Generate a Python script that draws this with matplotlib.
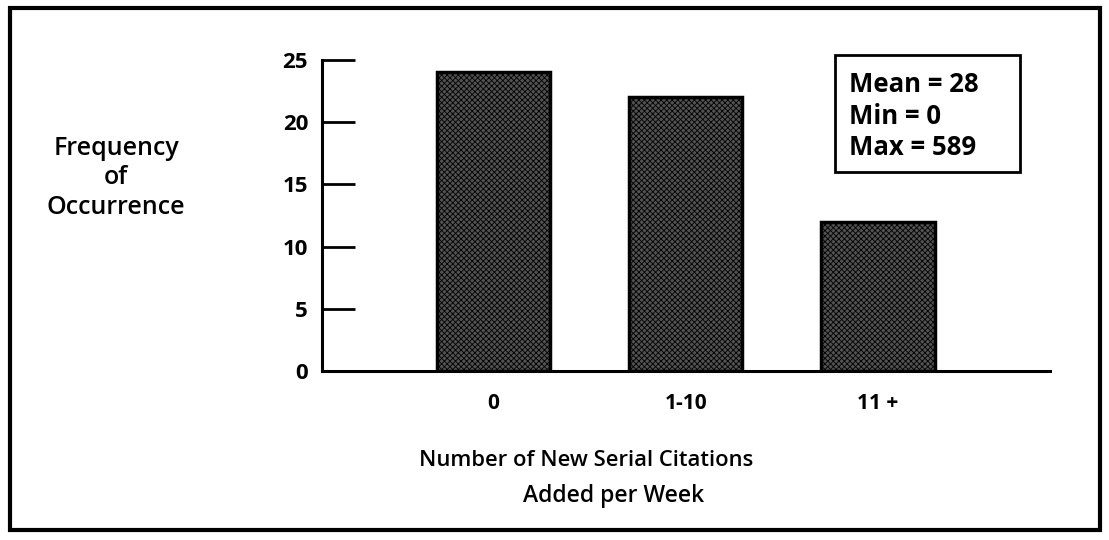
import matplotlib.pyplot as plt
from matplotlib.patches import Rectangle

# Data
categories = ["0", "1-10", "11 +"]
frequency = [24, 22, 12]
y_ticks = [0, 5, 10, 15, 20, 25]
stats_lines = ["Mean = 28", "Min = 0", "Max = 589"]

plt.rcParams['font.family'] = ['Open Sans', 'DejaVu Sans']
plt.rcParams['hatch.color'] = '#bdbdbd'
plt.rcParams['hatch.linewidth'] = 0.6

W, H = 1109, 540
fig = plt.figure(figsize=(W / 100, H / 100), dpi=100)

# Axes placed in pixel terms of the reference
ax = fig.add_axes([322 / W, (H - 371) / H, (1050 - 322) / W, (371 - 60) / H])

x = list(range(len(categories)))
ax.bar(x, frequency, width=0.59, color="#525252", edgecolor="black",
       linewidth=2.5, hatch="xxxxxx", zorder=2)

ax.set_xlim(-0.893, 2.896)
ax.set_ylim(0, 25)

for side in ["top", "right"]:
    ax.spines[side].set_visible(False)
ax.spines["left"].set_linewidth(2.2)
ax.spines["bottom"].set_linewidth(2.2)

ax.set_yticks(y_ticks)
ax.set_yticklabels([str(t) for t in y_ticks], fontsize=16, fontweight="bold")
ax.tick_params(axis="y", direction="in", length=24, width=2, pad=10)

ax.set_xticks(x)
ax.set_xticklabels(categories, fontsize=15, fontweight="bold")
ax.tick_params(axis="x", length=0, pad=16)

# Axis titles
fig.text(116 / W, 1 - 178 / H, "Frequency\nof\nOccurrence", ha="center",
         va="center", fontsize=18, fontweight="semibold", linespacing=1.25)
fig.text(586 / W, 1 - 460 / H, "Number of New Serial Citations",
         ha="center", va="center", fontsize=15.8, fontweight="semibold")
fig.text(614 / W, 1 - 496 / H, "Added per Week",
         ha="center", va="center", fontsize=16.5, fontweight="semibold")

# Summary statistics box
fig.text(849 / W, 1 - 116 / H, "\n".join(stats_lines), ha="left", va="center",
         fontsize=18.5, fontweight="bold", linespacing=1.22)
fig.patches.append(Rectangle((835 / W, 1 - 172 / H), 185 / W, 117 / H,
                             transform=fig.transFigure, fill=False,
                             edgecolor="black", linewidth=2))

# Outer frame
fig.patches.append(Rectangle((10 / W, 10 / H), 1090 / W, 522 / H,
                             transform=fig.transFigure, fill=False,
                             edgecolor="black", linewidth=3))

fig.savefig("out.png", dpi=100)
